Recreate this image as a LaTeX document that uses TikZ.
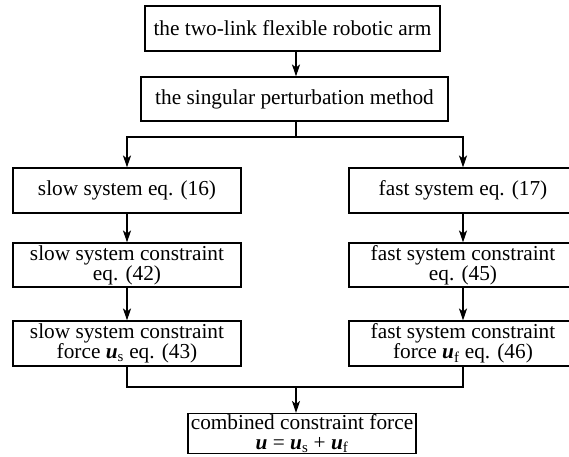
\documentclass[tikz,border=0pt]{standalone}
\usepackage{fontspec}
\setmainfont{Liberation Serif}
\usepackage{tikz}
\usetikzlibrary{arrows.meta,positioning}

\newcommand{\vu}{\textbf{\textit{u}}}

\begin{document}
\begin{tikzpicture}[x=1pt,y=-1pt,line width=1.1pt,
          every node/.style={font=\fontsize{21.3}{20}\selectfont},
          box/.style={draw,inner sep=0pt,align=center,minimum height=45pt},
          col/.style={box,minimum width=228pt},
          arr/.style={-{Stealth[length=12pt,width=8pt,inset=3pt]}}]
        \useasboundingbox (0,0) rectangle (569,456);
        \node[box,minimum width=295pt] (arm) at (292.5,28.5) {the two-link flexible robotic arm};
        \node[box,minimum width=307pt,minimum height=44pt] (spm) at (294.5,99) {the singular perturbation method};
        \node[col] (slow) at (127,190.5) {slow system eq. (16)};
        \node[col] (fast) at (463,190.5) {fast system eq. (17)};
        \node[col,minimum height=44pt] (slowc) at (127,265) {slow system constraint\\eq. (42)};
        \node[col,minimum height=44pt] (fastc) at (463,265) {fast system constraint\\eq. (45)};
        \node[col] (slowf) at (127,343.5) {slow system constraint\\force \vu\textsubscript{s} eq. (43)};
        \node[col] (fastf) at (463,343.5) {fast system constraint\\force \vu\textsubscript{f} eq. (46)};
        \node[col,minimum height=40pt] (comb) at (302,433.5) {combined constraint force\\\vu{} = \vu\textsubscript{s} + \vu\textsubscript{f}};
        \coordinate (top) at (296,137);
        \coordinate (bot) at (296,387);
        \draw[arr] (arm.south -| top) -- (spm.north -| top);
        \draw (spm.south -| top) -- (top);
        \draw[arr] (top) -| (slow.north); \draw[arr] (top) -| (fast.north);
        \draw[arr] (slow) -- (slowc); \draw[arr] (fast) -- (fastc);
        \draw[arr] (slowc) -- (slowf); \draw[arr] (fastc) -- (fastf);
        \draw (slowf.south) |- (bot); \draw (fastf.south) |- (bot);
        \draw[arr] (bot) -- (bot |- comb.north);
      \end{tikzpicture}
\end{document}
